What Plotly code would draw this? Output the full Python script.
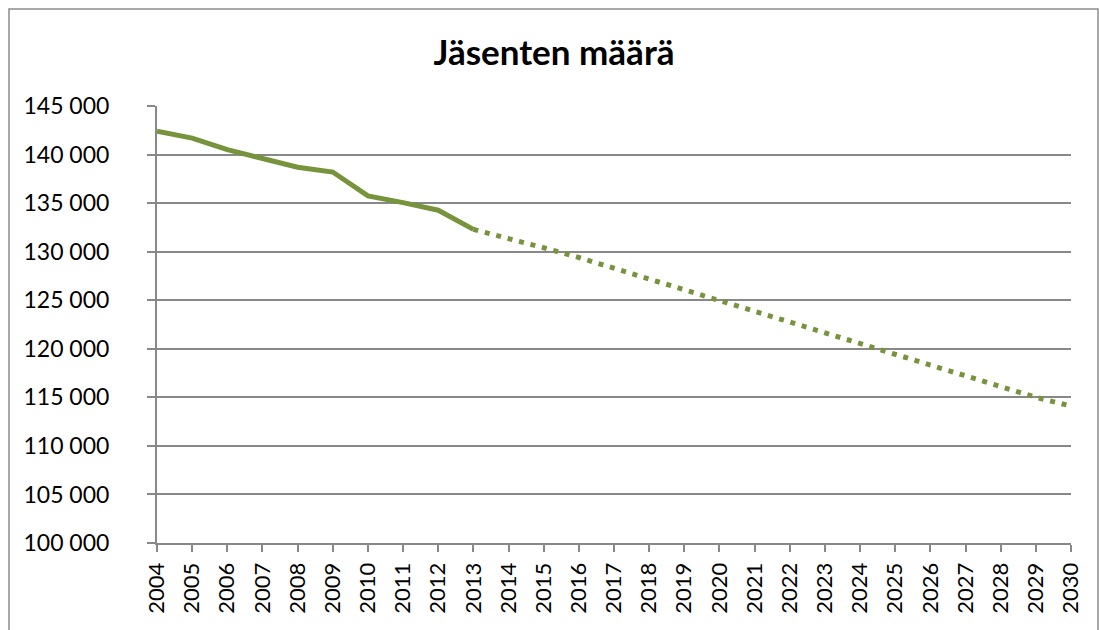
import plotly.graph_objects as go

# Actual membership 2004-2013
years_actual = [2004, 2005, 2006, 2007, 2008, 2009, 2010, 2011, 2012, 2013]
members_actual = [142400, 141700, 140500, 139600, 138700, 138200, 135750, 135050, 134270, 132300]

# Projection 2013-2030
years_proj = [2013, 2014, 2015, 2016, 2017, 2018, 2019, 2020, 2021, 2022,
              2023, 2024, 2025, 2026, 2027, 2028, 2029, 2030]
members_proj = [132300, 131400, 130400, 129400, 128300, 127200, 126100, 125000, 123900, 122800,
                121600, 120500, 119400, 118300, 117200, 116100, 115000, 114100]

title_text = "Jäsenten määrä"
x_ticks = list(range(2004, 2031))

GREEN = "#77933C"
GRID = "#888888"
FONT = "Lato"

fig = go.Figure()
fig.add_trace(go.Scatter(x=years_proj, y=members_proj, mode="lines",
                         line=dict(color=GREEN, width=5, dash="5px,6.8px"),
                         hoverinfo="skip", showlegend=False))
fig.add_trace(go.Scatter(x=years_actual, y=members_actual, mode="lines",
                         line=dict(color=GREEN, width=5),
                         showlegend=False))

W, H = 1099, 630
L, T = 157, 106
R = W - 1071
B = H - 543
pw, ph = W - L - R, H - T - B

fig.update_layout(
    width=W, height=H,
    margin=dict(l=L, r=R, t=T, b=B, pad=0, autoexpand=False),
    paper_bgcolor="white", plot_bgcolor="white",
    separators=", ",
    font=dict(family=FONT, color="black", size=23),
    title=dict(text="<b>" + title_text + "</b>", x=554 / W, xanchor="center",
               y=1 - 53 / H, yanchor="middle", font=dict(family=FONT, size=35, color="black")),
    xaxis=dict(range=[2004, 2030], tickvals=x_ticks, ticktext=[str(v) for v in x_ticks],
               tickangle=-90, showgrid=False, zeroline=False, automargin=False,
               showline=True, linecolor=GRID, linewidth=2,
               ticks="outside", ticklen=7, tickwidth=2, tickcolor=GRID,
               ticklabelstandoff=2, tickfont=dict(size=22, family=FONT)),
    yaxis=dict(range=[100000, 145000], dtick=5000, tickformat=",d", automargin=False,
               showgrid=True, gridcolor=GRID, gridwidth=1.5, zeroline=False,
               showline=True, linecolor=GRID, linewidth=2,
               ticks="outside", ticklen=8, tickwidth=2, tickcolor=GRID,
               ticklabelstandoff=33, tickfont=dict(size=23, family=FONT)),
    shapes=[dict(type="rect", xref="paper", yref="paper",
                 x0=(9 - L) / pw, x1=(1098 - L) / pw,
                 y0=(T + ph - (H + 20)) / ph, y1=(T + ph - 9) / ph,
                 line=dict(color="#8c8c8c", width=1.5), fillcolor="rgba(0,0,0,0)", layer="below")],
)

fig.write_html("out.html", config={"displayModeBar": False},
               post_script="document.body.style.margin='0';document.body.style.overflow='hidden';")
